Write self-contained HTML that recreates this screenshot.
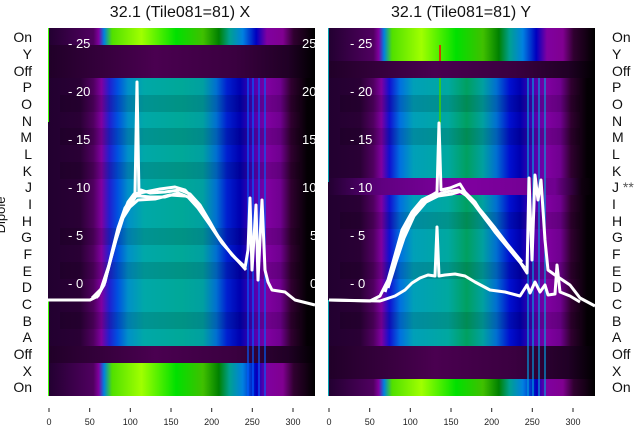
<!DOCTYPE html>
<html><head><meta charset="utf-8"><style>
body{margin:0;background:#fff;width:640px;height:440px;overflow:hidden}
svg{display:block;font-family:"Liberation Sans","DejaVu Sans",sans-serif}
</style></head><body>
<svg width="640" height="440" viewBox="0 0 640 440">
<defs>
<linearGradient id="spL" x1="0" x2="1" y1="0" y2="0">
<stop offset="0" stop-color="#220030"/><stop offset="0.12" stop-color="#2a0035"/><stop offset="0.17" stop-color="#500060"/><stop offset="0.2" stop-color="#8000a0"/><stop offset="0.23" stop-color="#2020d0"/><stop offset="0.26" stop-color="#0050e0"/><stop offset="0.3" stop-color="#0090c8"/><stop offset="0.36" stop-color="#00a8a8"/><stop offset="0.5" stop-color="#00a898"/><stop offset="0.58" stop-color="#00a0a0"/><stop offset="0.63" stop-color="#0070d0"/><stop offset="0.67" stop-color="#0020d0"/><stop offset="0.72" stop-color="#0000b0"/><stop offset="0.77" stop-color="#5000b0"/><stop offset="0.82" stop-color="#8000a0"/><stop offset="0.87" stop-color="#700090"/><stop offset="0.91" stop-color="#300030"/><stop offset="0.97" stop-color="#050005"/><stop offset="1" stop-color="#000"/>
</linearGradient>
<linearGradient id="spR" x1="0" x2="1" y1="0" y2="0">
<stop offset="0" stop-color="#220030"/><stop offset="0.12" stop-color="#2a0035"/><stop offset="0.17" stop-color="#500060"/><stop offset="0.2" stop-color="#8000a0"/><stop offset="0.23" stop-color="#1010d0"/><stop offset="0.27" stop-color="#0070e0"/><stop offset="0.32" stop-color="#00a0b8"/><stop offset="0.45" stop-color="#00a8a0"/><stop offset="0.52" stop-color="#00a060"/><stop offset="0.58" stop-color="#00a0a0"/><stop offset="0.63" stop-color="#0070d0"/><stop offset="0.68" stop-color="#0010d0"/><stop offset="0.72" stop-color="#0000b0"/><stop offset="0.77" stop-color="#5000b0"/><stop offset="0.82" stop-color="#8000a0"/><stop offset="0.87" stop-color="#700090"/><stop offset="0.91" stop-color="#300030"/><stop offset="0.97" stop-color="#050005"/><stop offset="1" stop-color="#000"/>
</linearGradient>
<linearGradient id="gr" x1="0" x2="1" y1="0" y2="0">
<stop offset="0" stop-color="#220030"/><stop offset="0.17" stop-color="#500060"/><stop offset="0.19" stop-color="#8000a0"/><stop offset="0.21" stop-color="#0080e0"/><stop offset="0.24" stop-color="#50e000"/><stop offset="0.35" stop-color="#a0ff00"/><stop offset="0.48" stop-color="#00e000"/><stop offset="0.58" stop-color="#40c000"/><stop offset="0.64" stop-color="#008000"/><stop offset="0.68" stop-color="#00a090"/><stop offset="0.73" stop-color="#0080e0"/><stop offset="0.78" stop-color="#0000c0"/><stop offset="0.82" stop-color="#8000a0"/><stop offset="0.88" stop-color="#800090"/><stop offset="0.92" stop-color="#300030"/><stop offset="1" stop-color="#000"/>
</linearGradient>
<linearGradient id="dk" x1="0" x2="1" y1="0" y2="0">
<stop offset="0" stop-color="#200028"/><stop offset="0.4" stop-color="#4a0050"/><stop offset="0.7" stop-color="#3a0040"/><stop offset="0.9" stop-color="#200025"/><stop offset="1" stop-color="#000"/>
</linearGradient>
<linearGradient id="pu" x1="0" x2="1" y1="0" y2="0">
<stop offset="0" stop-color="#220030"/><stop offset="0.2" stop-color="#600080"/><stop offset="0.5" stop-color="#8000a0"/><stop offset="0.85" stop-color="#700090"/><stop offset="0.95" stop-color="#100010"/><stop offset="1" stop-color="#000"/>
</linearGradient>
</defs>

<text x="180" y="17" font-size="16" text-anchor="middle" fill="#111">32.1 (Tile081=81) X</text>
<text x="461" y="17" font-size="16" text-anchor="middle" fill="#111">32.1 (Tile081=81) Y</text>

<!-- Left panel -->
<g>
<rect x="48" y="28" width="267" height="17" fill="url(#gr)"/>
<rect x="48" y="45" width="267" height="33" fill="url(#dk)"/>
<rect x="48" y="78" width="267" height="268" fill="url(#spL)"/>
<g fill="#000" opacity="0.12">
<rect x="60" y="95" width="240" height="17"/><rect x="60" y="128" width="240" height="17"/><rect x="60" y="162" width="240" height="17"/><rect x="60" y="228" width="240" height="17"/><rect x="60" y="262" width="240" height="17"/><rect x="60" y="312" width="240" height="17"/>
</g>
<rect x="48" y="346" width="267" height="17" fill="url(#dk)"/>
<rect x="48" y="363" width="267" height="33" fill="url(#gr)"/>
<g stroke="#0060ff" stroke-width="1.5" opacity="0.8">
<line x1="248" y1="78" x2="248" y2="396"/><line x1="253" y1="78" x2="253" y2="396"/><line x1="259" y1="78" x2="259" y2="396"/><line x1="265" y1="78" x2="265" y2="396"/>
</g>
<line x1="48.5" y1="28" x2="48.5" y2="122" stroke="#40ff00"/>
<line x1="48.5" y1="300" x2="48.5" y2="396" stroke="#40ff00"/>
<g fill="none" stroke="#fff" stroke-width="3" stroke-linejoin="round">
<polyline points="48,300 90,300 98,296 105,282 112,252 118,228 125,208 132,198 135,193 137,82 139,196 141,190 150,193 165,192 180,190 190,194 200,205 210,222 220,240 235,258 245,268 248,250 250,198 252,270 256,205 258,280 262,200 265,270 268,282 272,290 285,292 295,300 315,305"/>
<polyline points="96,298 104,285 111,258 117,236 124,214 131,204 136,196 140,196 150,197 165,197 178,193 188,197 198,208 210,225 222,243 238,261 246,270"/>
<polyline points="100,292 108,270 114,245 121,220 128,202 134,194 145,192 160,189 175,187 185,190 196,202 206,218 218,236 232,255 244,266"/>
<polyline points="92,298 101,289 110,262 116,240 123,218 130,207 138,200 155,199 170,195 185,196"/>
</g>
<g fill="#fff" font-size="13">
<text x="68" y="48">- 25</text><text x="68" y="96">- 20</text><text x="68" y="144">- 15</text><text x="68" y="192">- 10</text><text x="68" y="240">- 5</text><text x="68" y="288">- 0</text>
<text x="302" y="48">25</text><text x="302" y="96">20</text><text x="302" y="144">15</text><text x="302" y="192">10</text><text x="310" y="240">5</text><text x="310" y="288">0</text>
</g>
</g>

<!-- Right panel -->
<g>
<rect x="328" y="28" width="267" height="33" fill="url(#gr)"/>
<rect x="328" y="61" width="267" height="17" fill="url(#dk)"/>
<rect x="328" y="78" width="267" height="268" fill="url(#spR)"/>
<g fill="#000" opacity="0.12">
<rect x="340" y="95" width="240" height="17"/><rect x="340" y="128" width="240" height="17"/><rect x="340" y="212" width="240" height="17"/><rect x="340" y="262" width="240" height="17"/><rect x="340" y="312" width="240" height="17"/>
</g>
<rect x="328" y="178" width="267" height="17" fill="url(#pu)"/>
<rect x="328" y="346" width="267" height="33" fill="url(#dk)"/>
<rect x="328" y="379" width="267" height="17" fill="url(#gr)"/>
<g stroke="#00a0e0" stroke-width="1.5" opacity="0.8">
<line x1="528" y1="78" x2="528" y2="396"/><line x1="533" y1="78" x2="533" y2="396"/><line x1="539" y1="78" x2="539" y2="396"/><line x1="545" y1="78" x2="545" y2="396"/>
</g>
<line x1="328.5" y1="28" x2="328.5" y2="182" stroke="#00a0b0"/>
<line x1="328.5" y1="300" x2="328.5" y2="396" stroke="#00a0b0"/>
<line x1="440" y1="45" x2="440" y2="61" stroke="#ff0000" stroke-width="1.5"/>
<line x1="440" y1="78" x2="440" y2="125" stroke="#40d000" stroke-width="1.5"/>
<g fill="none" stroke="#fff" stroke-width="3" stroke-linejoin="round">
<polyline points="329,300 370,301 380,296 388,280 395,255 402,230 412,212 422,200 432,195 437,192 439,123 441,190 450,188 460,184 465,192 475,202 485,218 495,232 510,250 520,262 527,273 529,178 532,260 535,175 538,200 541,180 545,240 548,270 555,275 570,285 580,298 595,306"/>
<polyline points="385,292 392,270 400,243 408,222 418,207 430,197 445,192 458,190 470,198 482,212 495,228 508,245 522,262"/>
<polyline points="388,288 396,262 404,238 414,216 426,202 438,196 452,194 462,191 474,204 486,220 500,238 514,255 525,268"/>
<polyline points="329,300 380,301 395,296 405,290 412,283 420,278 428,275 435,276 437,227 439,276 445,275 455,274 465,276 475,282 490,290 505,292 520,296 527,285 530,293 535,282 540,292 545,285 548,295 555,294 557,265 560,292 570,296 580,302"/>
</g>
<g fill="#fff" font-size="13">
<text x="350" y="48">- 25</text><text x="350" y="96">- 20</text><text x="350" y="144">- 15</text><text x="350" y="192">- 10</text><text x="350" y="240">- 5</text><text x="350" y="288">- 0</text>
</g>
</g>

<!-- Row labels -->
<g font-size="14" fill="#111" text-anchor="end">
<text x="32" y="42">On</text><text x="32" y="59">Y</text><text x="32" y="76">Off</text><text x="32" y="92">P</text><text x="32" y="109">O</text><text x="32" y="126">N</text><text x="32" y="142">M</text><text x="32" y="159">L</text><text x="32" y="176">K</text><text x="32" y="192">J</text><text x="32" y="209">I</text><text x="32" y="226">H</text><text x="32" y="242">G</text><text x="32" y="259">F</text><text x="32" y="276">E</text><text x="32" y="292">D</text><text x="32" y="309">C</text><text x="32" y="326">B</text><text x="32" y="342">A</text><text x="32" y="359">Off</text><text x="32" y="376">X</text><text x="32" y="392">On</text>
</g>
<text transform="translate(5,215) rotate(-90)" font-size="13" fill="#111" text-anchor="middle">Dipole</text>
<g font-size="14" fill="#111">
<text x="612" y="42">On</text><text x="612" y="59">Y</text><text x="612" y="76">Off</text><text x="612" y="92">P</text><text x="612" y="109">O</text><text x="612" y="126">N</text><text x="612" y="142">M</text><text x="612" y="159">L</text><text x="612" y="176">K</text><text x="612" y="192">J <tspan fill="#555">**</tspan></text><text x="612" y="209">I</text><text x="612" y="226">H</text><text x="612" y="242">G</text><text x="612" y="259">F</text><text x="612" y="276">E</text><text x="612" y="292">D</text><text x="612" y="309">C</text><text x="612" y="326">B</text><text x="612" y="342">A</text><text x="612" y="359">Off</text><text x="612" y="376">X</text><text x="612" y="392">On</text>
</g>

<!-- X ticks -->
<g stroke="#222" stroke-width="1">
<line x1="49" y1="408" x2="49" y2="412"/><line x1="89.7" y1="408" x2="89.7" y2="412"/><line x1="130.3" y1="408" x2="130.3" y2="412"/><line x1="171" y1="408" x2="171" y2="412"/><line x1="211.7" y1="408" x2="211.7" y2="412"/><line x1="252.3" y1="408" x2="252.3" y2="412"/><line x1="293" y1="408" x2="293" y2="412"/>
<line x1="329" y1="408" x2="329" y2="412"/><line x1="369.7" y1="408" x2="369.7" y2="412"/><line x1="410.3" y1="408" x2="410.3" y2="412"/><line x1="451" y1="408" x2="451" y2="412"/><line x1="491.7" y1="408" x2="491.7" y2="412"/><line x1="532.3" y1="408" x2="532.3" y2="412"/><line x1="573" y1="408" x2="573" y2="412"/>
</g>
<g font-size="9" fill="#222" text-anchor="middle">
<text x="49" y="425">0</text><text x="89.7" y="425">50</text><text x="130.3" y="425">100</text><text x="171" y="425">150</text><text x="211.7" y="425">200</text><text x="252.3" y="425">250</text><text x="293" y="425">300</text>
<text x="329" y="425">0</text><text x="369.7" y="425">50</text><text x="410.3" y="425">100</text><text x="451" y="425">150</text><text x="491.7" y="425">200</text><text x="532.3" y="425">250</text><text x="573" y="425">300</text>
</g>
</svg>
</body></html>
